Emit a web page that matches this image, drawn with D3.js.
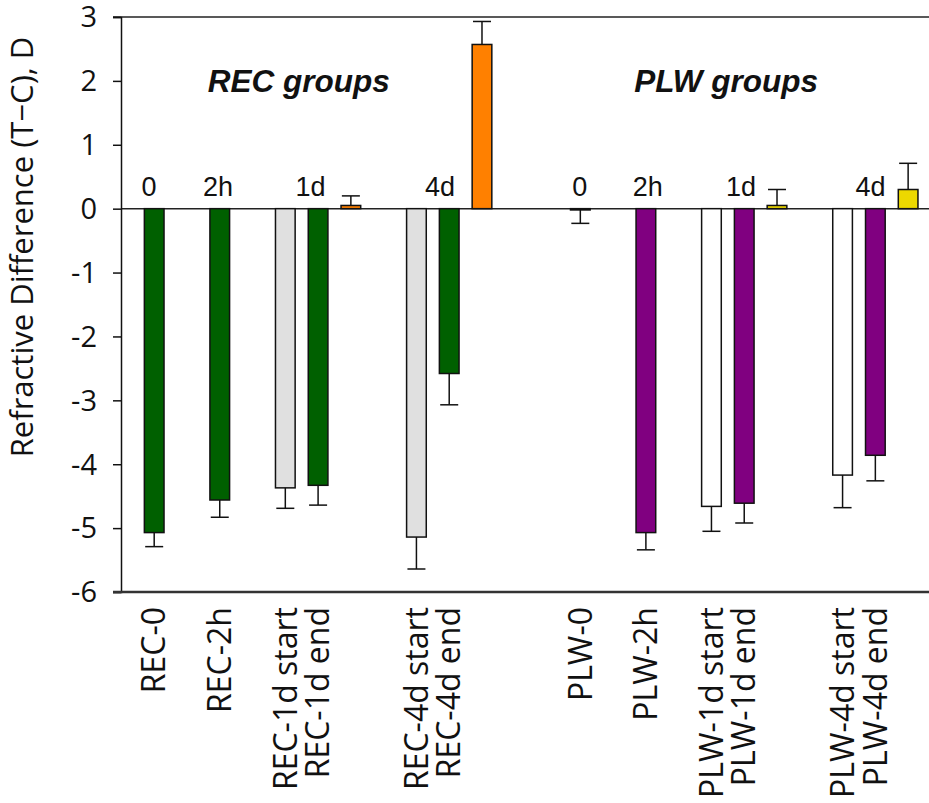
<!DOCTYPE html>
<html>
<head>
<meta charset="utf-8">
<script src="https://cdn.jsdelivr.net/npm/d3@7"></script>
<style>
  html, body { margin: 0; padding: 0; background: #fff; }
  svg { display: block; }
</style>
</head>
<body>
<svg id="chart" width="929" height="803"></svg>
<script>
// ---------- data ----------
// slot layout (null = empty gap slot between bars)
const categories = [
  "REC-0", null, "REC-2h", null, "REC-1d start", "REC-1d end", "REC-1d", null,
  "REC-4d start", "REC-4d end", "REC-4d", null, null,
  "PLW-0", null, "PLW-2h", null, "PLW-1d start", "PLW-1d end", "PLW-1d", null,
  "PLW-4d start", "PLW-4d end", "PLW-4d"
];
const barNames  = ["REC-0","REC-2h","REC-1d start","REC-1d end","REC-1d","REC-4d start","REC-4d end","REC-4d",
                   "PLW-0","PLW-2h","PLW-1d start","PLW-1d end","PLW-1d","PLW-4d start","PLW-4d end","PLW-4d"];
const xLabels   = ["REC-0","REC-2h","REC-1d start","REC-1d end","","REC-4d start","REC-4d end","",
                   "PLW-0","PLW-2h","PLW-1d start","PLW-1d end","","PLW-4d start","PLW-4d end",""];
const values    = [-5.07, -4.56, -4.37, -4.33, 0.05, -5.14, -2.58, 2.57,
                   -0.02, -5.07, -4.66, -4.61, 0.05, -4.17, -3.86, 0.30];
const errors    = [0.22, 0.27, 0.32, 0.31, 0.15, 0.50, 0.49, 0.36,
                   0.21, 0.27, 0.39, 0.31, 0.25, 0.51, 0.40, 0.41];
const barTypes  = ["recEnd","recEnd","recStart","recEnd","recChange","recStart","recEnd","recChange",
                   "plwEnd","plwEnd","plwStart","plwEnd","plwChange","plwStart","plwEnd","plwChange"];
const yTicks    = [3, 2, 1, 0, -1, -2, -3, -4, -5, -6];
const timeLabels = ["0", "2h", "1d", "4d", "0", "2h", "1d", "4d"];
const groupTitles = ["REC groups", "PLW groups"];
const yTitle = "Refractive Difference (T\u2212C), D";

// ---------- layout / style ----------
const colors = {
  recEnd: "#006000", recStart: "#e0e0e0", recChange: "#ff8000",
  plwEnd: "#800080", plwStart: "#ffffff", plwChange: "#ecd800"
};
const timeLabelSlots = [-0.16, 1.95, 4.77, 8.72, 12.98, 15.06, 17.9, 21.85];
const groupTitleSlots = [4.41, 17.45];

const axisX = 121, topY = 17, bottomY = 592, rightX = 929;

const svg = d3.select("#chart");

const x = d3.scaleBand()
  .domain(d3.range(categories.length))
  .range([137.8, 137.8 + 32.78 * categories.length])
  .paddingInner(0.4)
  .paddingOuter(0.2);
const slotCenter = s => x.range()[0] + x.step() * (s + 0.5);

const y = d3.scaleLinear().domain([-6, 3]).range([bottomY, topY]);

const bars = barNames.map((n, i) => ({
  name: n, label: xLabels[i], value: values[i], err: errors[i], type: barTypes[i],
  slot: categories.indexOf(n)
}));

// frame lines
svg.append("line").attr("x1", axisX - 8).attr("x2", rightX).attr("y1", y(3)).attr("y2", y(3))
  .attr("stroke", "#222").attr("stroke-width", 1.5);
svg.append("line").attr("x1", axisX).attr("x2", rightX).attr("y1", y(0)).attr("y2", y(0))
  .attr("stroke", "#222").attr("stroke-width", 1.5);

// bars
svg.append("g").selectAll("rect").data(bars).join("rect")
  .attr("x", d => x(d.slot))
  .attr("width", x.bandwidth())
  .attr("y", d => y(Math.max(0, d.value)))
  .attr("height", d => Math.abs(y(d.value) - y(0)))
  .attr("fill", d => colors[d.type])
  .attr("stroke", "#111").attr("stroke-width", 1.5);

// error bars (one-sided, away from zero)
const eg = svg.append("g").attr("stroke", "#111").attr("stroke-width", 1.5);
bars.forEach(d => {
  const cx = x(d.slot) + x.bandwidth() / 2;
  const tip = d.value >= 0 ? d.value + d.err : d.value - d.err;
  eg.append("line").attr("x1", cx).attr("x2", cx).attr("y1", y(d.value)).attr("y2", y(tip));
  eg.append("line").attr("x1", cx - 9).attr("x2", cx + 9).attr("y1", y(tip)).attr("y2", y(tip));
});

// y axis
const yAxis = d3.axisLeft(y).tickValues(yTicks).tickSize(8).tickPadding(16).tickFormat(d3.format("d"));
const ya = svg.append("g").attr("transform", `translate(${axisX},0)`).call(yAxis);
ya.select(".domain").attr("stroke", "#111").attr("stroke-width", 1.5);
ya.selectAll(".tick line").attr("stroke", "#111").attr("stroke-width", 1.5);
ya.selectAll(".tick text").attr("font-family", "'Open Sans', sans-serif").attr("font-size", 29)
  .attr("fill", "#111").attr("dy", "0.34em").text(d => d < 0 ? "-" + Math.abs(d) : d);

// bottom axis line
svg.append("line").attr("x1", axisX - 8).attr("x2", rightX).attr("y1", bottomY).attr("y2", bottomY)
  .attr("stroke", "#333").attr("stroke-width", 2.5);

// x labels (rotated)
svg.append("g").selectAll("text").data(bars.filter(d => d.label)).join("text")
  .attr("transform", d => `translate(${x(d.slot) + x.bandwidth() / 2},607) rotate(-90)`)
  .attr("text-anchor", "end")
  .attr("dy", "0.35em")
  .attr("font-family", "'Open Sans', sans-serif").attr("font-size", 32).attr("fill", "#111")
  .text(d => d.label);

// time labels
svg.append("g").selectAll("text").data(timeLabels).join("text")
  .attr("x", (d, i) => slotCenter(timeLabelSlots[i]))
  .attr("y", 196)
  .attr("text-anchor", "middle")
  .attr("font-family", "'Liberation Sans', Arial, sans-serif").attr("font-size", 27).attr("fill", "#111")
  .text(d => d);

// group titles
svg.append("g").selectAll("text").data(groupTitles).join("text")
  .attr("x", (d, i) => slotCenter(groupTitleSlots[i]))
  .attr("y", 92)
  .attr("text-anchor", "middle")
  .attr("font-family", "'Liberation Sans', Arial, sans-serif").attr("font-size", 31.5)
  .attr("font-weight", "bold").attr("font-style", "italic").attr("fill", "#111")
  .text(d => d);

// y title
svg.append("text")
  .attr("transform", `translate(33,247) rotate(-90)`)
  .attr("text-anchor", "middle")
  .attr("font-family", "'Open Sans', sans-serif").attr("font-size", 31).attr("fill", "#111")
  .text(yTitle);
</script>
</body>
</html>
